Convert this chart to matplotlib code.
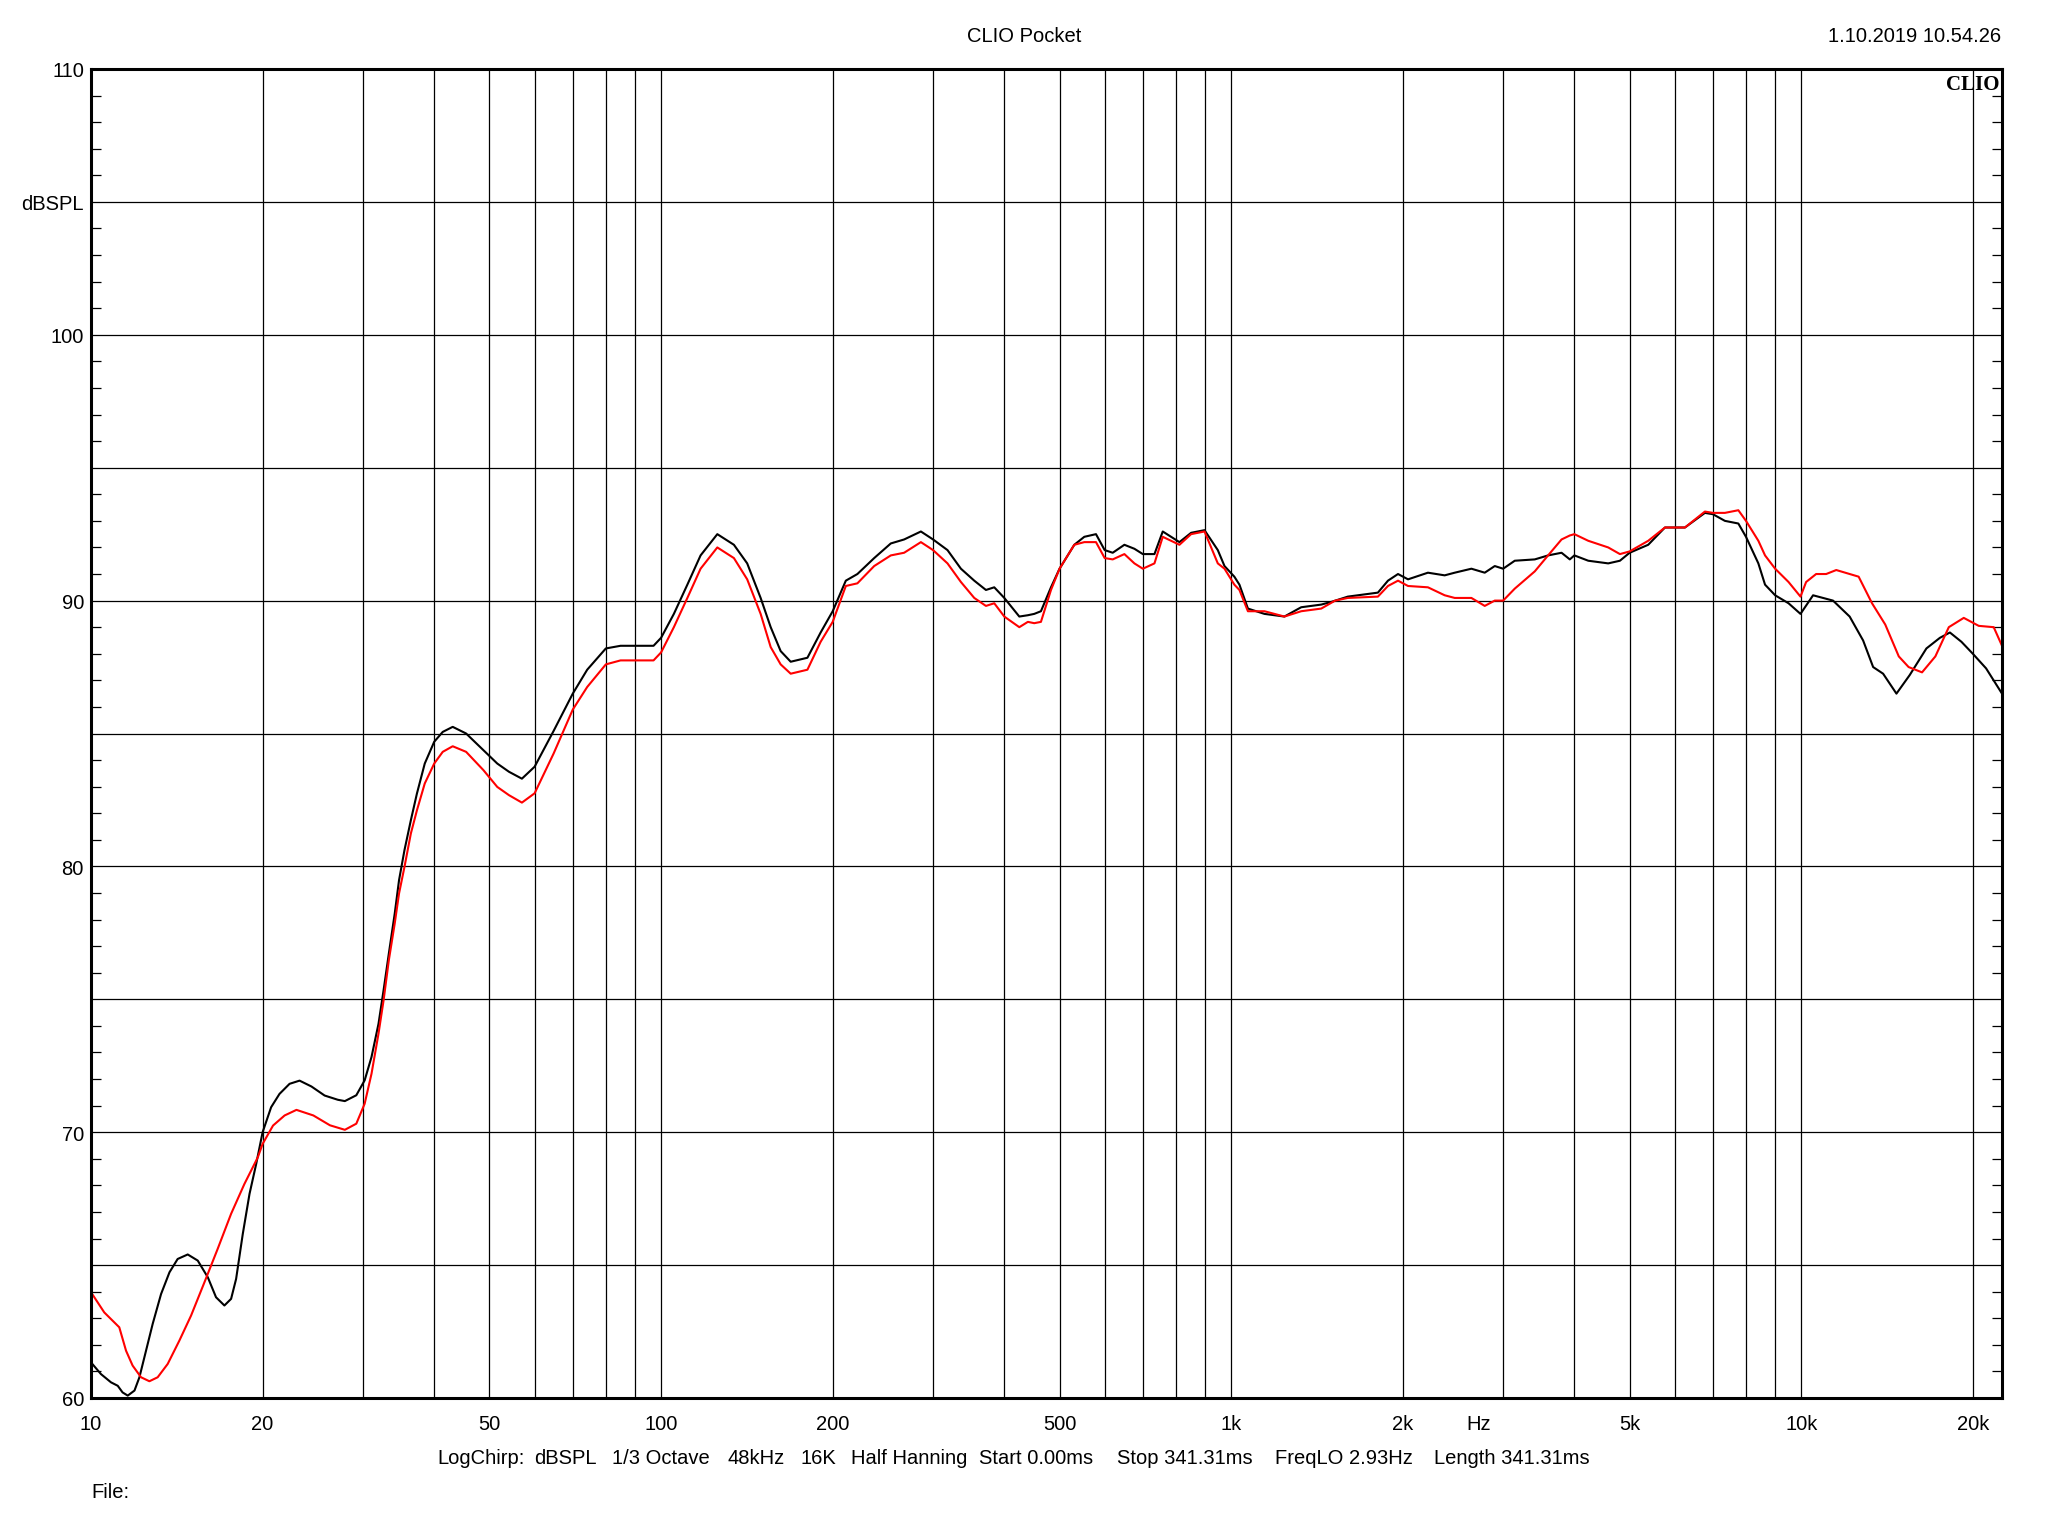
import matplotlib
matplotlib.use("Agg")
import matplotlib.pyplot as plt
import matplotlib.transforms as mtransforms
from matplotlib.ticker import FixedLocator, NullFormatter

plt.rcParams["font.family"] = ["Liberation Sans", "DejaVu Sans"]

# --- data (Hz, dBSPL) ---
freq_black = [10, 10.41, 10.84, 11.14, 11.36, 11.6, 11.92, 12.16, 12.49, 12.83, 13.27, 13.73,
              14.19, 14.78, 15.39, 16.03, 16.57, 17.14, 17.61, 17.97, 18.46, 18.97, 19.49,
              20, 20.7, 21.41, 22.3, 23.22, 24.36, 25.69, 27.1, 27.88, 29.2, 30.2, 31.05,
              31.94, 32.6, 33.3, 34.1, 34.7, 35.47, 36.4, 37.3, 38.5, 40, 41.4, 43.1, 45.5,
              48.8, 51.6, 54.1, 57, 60, 64.8, 70, 74.2, 80, 84.9, 90, 97, 100,
              105.3, 111.2, 117.3, 125.5, 134.2, 141.6, 149.5, 155.7, 162.1, 168.8, 180.6,
              190.5, 200, 210.9, 221, 236.5, 252.9, 266.9, 285.6, 300, 318, 335.7, 354.3,
              371.4, 384.1, 400, 425, 440, 451.4, 463.8, 483, 500, 530.7, 552.6, 579.3,
              600, 619.8, 649.7, 676.5, 700, 733.6, 758.6, 811.5, 850.6, 898, 947.5, 973.5,
              1013, 1034, 1070, 1144, 1240, 1327, 1439, 1498, 1602, 1809, 1884, 1962, 2043,
              2214, 2369, 2467, 2639, 2785, 2900, 3000, 3144, 3409, 3597, 3798, 3927, 4000,
              4231, 4586, 4808, 5000, 5390, 5767, 6252, 6777, 7000, 7347, 7757, 8000, 8410,
              8640, 9000, 9500, 9970, 10490, 11370, 12160, 12840, 13370, 13920, 14690,
              15500, 16580, 17510, 18230, 19100, 20000, 21100, 22500]
spl_black = [61.34, 60.9, 60.59, 60.46, 60.21, 60.09, 60.28, 60.78, 61.78, 62.79, 63.91, 64.73,
             65.23, 65.4, 65.17, 64.54, 63.79, 63.48, 63.73, 64.48, 66.17, 67.68, 68.81,
             70.0, 70.94, 71.44, 71.82, 71.94, 71.72, 71.38, 71.22, 71.17, 71.39, 71.95, 72.83,
             74.08, 75.34, 76.72, 78.22, 79.48, 80.61, 81.74, 82.74, 83.87, 84.69, 85.06, 85.25, 85.0,
             84.37, 83.87, 83.56, 83.3, 83.75, 85.1, 86.5, 87.4, 88.2, 88.3, 88.3, 88.3, 88.6,
             89.5, 90.6, 91.7, 92.5, 92.1, 91.4, 90.1, 89.0, 88.1, 87.7, 87.85,
             88.8, 89.6, 90.75, 91.0, 91.6, 92.15, 92.3, 92.6, 92.3, 91.9, 91.2, 90.75,
             90.4, 90.5, 90.1, 89.4, 89.45, 89.5, 89.6, 90.5, 91.2, 92.1, 92.4, 92.5,
             91.9, 91.8, 92.1, 91.95, 91.75, 91.75, 92.6, 92.2, 92.55, 92.65, 91.9, 91.3,
             90.9, 90.6, 89.7, 89.5, 89.4, 89.75, 89.85, 89.95, 90.15, 90.3, 90.75, 91.0, 90.8,
             91.05, 90.95, 91.05, 91.2, 91.05, 91.3, 91.2, 91.5, 91.55, 91.7, 91.8, 91.55, 91.7,
             91.5, 91.4, 91.5, 91.8, 92.1, 92.75, 92.75, 93.3, 93.25, 93.0, 92.9, 92.4, 91.4,
             90.6, 90.2, 89.9, 89.5, 90.2, 90.0, 89.4, 88.5, 87.5, 87.25, 86.5,
             87.2, 88.2, 88.6, 88.8, 88.45, 88.0, 87.45, 86.5]

freq_red = [10, 10.55, 11.21, 11.52, 11.83, 12.24, 12.66, 13.09, 13.63, 14.29, 14.98, 15.81,
            16.68, 17.61, 18.58, 19.62, 20, 20.86, 21.86, 22.93, 24.55, 26.25, 27.88, 29.2,
            30.2, 31.05, 31.94, 32.6, 33.3, 34.1, 34.7, 35.47, 36.4, 37.3, 38.5, 40, 41.4,
            43.1, 45.5, 48.8, 51.6, 54.1, 57, 60, 64.8, 70, 74.2, 80, 84.9, 90, 97, 100,
            105.3, 111.2, 117.3, 125.5, 134.2, 141.6, 149.5, 155.7, 162.1, 168.8, 180.6,
            190.5, 200, 210.9, 221, 236.5, 252.9, 266.9, 285.6, 300, 318, 335.7, 354.3,
            371.4, 384.1, 400, 425, 440, 451.4, 463.8, 483, 500, 530.7, 552.6, 579.3,
            600, 619.8, 649.7, 676.5, 700, 733.6, 758.6, 811.5, 850.6, 898, 947.5, 973.5,
            1013, 1034, 1070, 1144, 1240, 1327, 1439, 1522, 1602, 1809, 1884, 1962, 2043,
            2214, 2369, 2467, 2639, 2785, 2900, 3000, 3144, 3409, 3597, 3798, 3927, 4000,
            4231, 4586, 4808, 5000, 5390, 5767, 6252, 6777, 7000, 7347, 7757, 8000, 8410,
            8640, 9000, 9500, 9970, 10200, 10620, 11060, 11520, 12610, 13310, 14040,
            14830, 15430, 16290, 17190, 18150, 19280, 20480, 21760, 22500]
spl_red = [63.98, 63.22, 62.66, 61.78, 61.22, 60.78, 60.63, 60.78, 61.28, 62.16, 63.1, 64.35,
           65.61, 66.93, 68.05, 69.06, 69.56, 70.25, 70.63, 70.84, 70.63, 70.26, 70.09, 70.32,
           71.07, 72.2, 73.71, 74.96, 76.47, 77.85, 78.98, 79.98, 81.24, 82.11, 83.12, 83.87,
           84.31, 84.52, 84.31, 83.62, 82.99, 82.68, 82.4, 82.75, 84.25, 85.9, 86.75, 87.6,
           87.75, 87.75, 87.75, 88.05, 89.0, 90.1, 91.2, 92.0, 91.6, 90.8, 89.5, 88.25, 87.6,
           87.25, 87.4, 88.45, 89.2, 90.55, 90.65, 91.3, 91.7, 91.8, 92.2, 91.9, 91.4,
           90.7, 90.1, 89.8, 89.9, 89.4, 89.0, 89.2, 89.15, 89.2, 90.4, 91.2, 92.1, 92.2,
           92.2, 91.6, 91.55, 91.75, 91.4, 91.2, 91.4, 92.4, 92.1, 92.5, 92.6, 91.4, 91.2,
           90.6, 90.4, 89.6, 89.6, 89.4, 89.6, 89.7, 90.0, 90.1, 90.15, 90.55, 90.75,
           90.55, 90.5, 90.2, 90.1, 90.1, 89.8, 90.0, 90.0, 90.45, 91.1, 91.7, 92.3,
           92.45, 92.5, 92.25, 92.0, 91.75, 91.85, 92.25, 92.75, 92.75, 93.35, 93.3, 93.3,
           93.4, 93.0, 92.25, 91.7, 91.2, 90.7, 90.15, 90.7, 91.0, 91.0, 91.15, 90.9,
           89.9, 89.1, 87.9, 87.5, 87.3, 87.9, 89.0, 89.35, 89.05, 89.0, 88.3]

grid_freqs = [20, 30, 40, 50, 60, 70, 80, 90, 100, 200, 300, 400, 500, 600, 700, 800, 900,
              1000, 2000, 3000, 4000, 5000, 6000, 7000, 8000, 9000, 10000, 20000]
x_label_freqs = [10, 20, 50, 100, 200, 500, 1000, 2000, 5000, 10000, 20000]
x_labels = ["10", "20", "50", "100", "200", "500", "1k", "2k", "5k", "10k", "20k"]
y_label_vals = [60, 70, 80, 90, 100, 105, 110]
y_labels = ["60", "70", "80", "90", "100", "dBSPL", "110"]
info_items = ["LogChirp:", "dBSPL", "1/3 Octave", "48kHz", "16K", "Half Hanning",
              "Start 0.00ms", "Stop 341.31ms", "FreqLO 2.93Hz", "Length 341.31ms"]

W, H = 2048, 1536
fig = plt.figure(figsize=(W / 100, H / 100), dpi=100)
L, R, T, B = 91, 2002, 69, 1398
ax = fig.add_axes([L / W, 1 - B / H, (R - L) / W, (B - T) / H])

ax.set_xscale("log")
ax.set_xlim(10, 22500)
ax.set_ylim(60, 110)

ax.plot(freq_black, spl_black, color="black", lw=1.5, zorder=3)
ax.plot(freq_red, spl_red, color="#ff0000", lw=1.5, zorder=4)

# grid
for f in grid_freqs:
    ax.axvline(f, color="black", lw=0.9, zorder=1)
for v in range(65, 110, 5):
    ax.axhline(v, color="black", lw=0.9, zorder=1)

ax.xaxis.set_major_locator(FixedLocator([]))
ax.xaxis.set_minor_locator(FixedLocator([]))
ax.xaxis.set_major_formatter(NullFormatter())
ax.xaxis.set_minor_formatter(NullFormatter())
ax.yaxis.set_major_locator(FixedLocator([]))
ax.yaxis.set_minor_locator(FixedLocator([v for v in range(61, 110) if v % 5]))
ax.yaxis.set_minor_formatter(NullFormatter())
ax.tick_params(axis="y", which="minor", direction="in", length=7, width=0.9,
               left=True, right=True, color="black")
for s in ax.spines.values():
    s.set_linewidth(2.2)
    s.set_zorder(5)

fs = 14.5
dy = 3 / (B - T)  # small downward nudge of label centres
xt = mtransforms.blended_transform_factory(ax.transData, ax.transAxes)
for f, lab in zip(x_label_freqs, x_labels):
    ax.text(f, -0.0175 - dy, lab, transform=xt, ha="center", va="center", fontsize=fs)
ax.text(2720, -0.0175 - dy, "Hz", transform=xt, ha="center", va="center", fontsize=fs)

yt = mtransforms.blended_transform_factory(ax.transAxes, ax.transData)
for v, lab in zip(y_label_vals, y_labels):
    ax.text(-0.0037, v - 0.11, lab, transform=yt, ha="right", va="center", fontsize=fs)

ax.text(0.9985, 0.9955, "CLIO", transform=ax.transAxes, ha="right", va="top",
        fontsize=15, fontweight="bold", family="Liberation Serif", zorder=6)

fig.text(1024 / W, 1 - 37 / H, "CLIO Pocket", ha="center", va="center", fontsize=fs)
fig.text(2001 / W, 1 - 37 / H, "1.10.2019 10.54.26", ha="right", va="center", fontsize=fs)

info_x = [437, 534, 612, 727, 800, 851, 979, 1117, 1275, 1434]
for x, s in zip(info_x, info_items):
    fig.text(x / W, 1 - 1459 / H, s, ha="left", va="center", fontsize=fs)
fig.text(91 / W, 1 - 1492 / H, "File:", ha="left", va="center", fontsize=fs)

fig.savefig("out.png", dpi=100, facecolor="white")
